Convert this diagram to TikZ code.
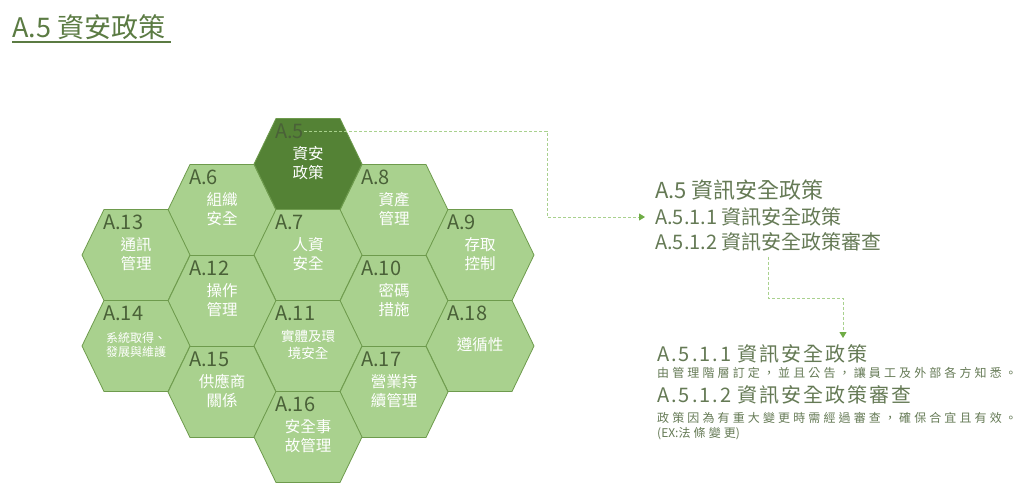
\documentclass[tikz,border=0pt]{standalone}
\usepackage{fontspec}
\setmainfont{Noto Sans CJK TC}
\newfontfamily\headspaced[LetterSpace=10]{Noto Sans CJK TC}
\newfontfamily\notespaced[LetterSpace=26]{Noto Sans CJK TC}
\usepackage{xcolor}
\usetikzlibrary{arrows.meta}
\definecolor{HexFill}{HTML}{A9D18E}
\definecolor{HexDark}{HTML}{548235}
\definecolor{HexEdge}{HTML}{6E9B4D}
\definecolor{CodeInk}{HTML}{4A6138}
\definecolor{TitleInk}{HTML}{5B7B43}
\definecolor{BodyInk}{HTML}{657A55}
\definecolor{LinkGreen}{HTML}{A9D18E}
\definecolor{ArrowGreen}{HTML}{6FAC46}

\begin{document}
\begin{tikzpicture}[
  x=1pt,y=-1pt,
  hexline/.style={draw=HexEdge,line width=.8pt,line join=miter},
  hexcode/.style={anchor=west,inner sep=0pt,text=CodeInk,font=\fontsize{20}{22}\selectfont},
  hextext/.style={inner sep=0pt,align=center,text=white,font=\fontsize{15.5}{19.5}\selectfont},
  pics/hexcell/.style n args={3}{code={
    \draw[hexline,fill=#1] (-54,0)--(-32,-45.5)--(32,-45.5)--(54,0)--(32,45.5)--(-32,45.5)--cycle;
    \node[hexcode] (-code) at (-33,-33) {#2};
    \node[hextext] (-txt) at (0,-1) {#3};
  }},
  heading/.style={anchor=west,inner sep=0pt,text=BodyInk,font=\fontsize{22}{26}\selectfont},
  subline/.style={anchor=west,inner sep=0pt,text=BodyInk,font=\fontsize{20}{24}\selectfont},
  dethead/.style={anchor=west,inner sep=0pt,text=BodyInk,font=\headspaced\fontsize{20}{22}\selectfont},
  note/.style={anchor=west,inner sep=0pt,text=BodyInk,font=\notespaced\fontsize{12}{14}\selectfont},
  dashlink/.style={draw=LinkGreen,line width=1pt,dash pattern=on 3pt off 2pt,-{Triangle[length=6pt,width=7pt,color=ArrowGreen]}}
]
\path[fill=white] (0,0) rectangle (1024,500);
\useasboundingbox (0,0) rectangle (1024,500);

% title
\node[anchor=west,inner sep=0pt,text=TitleInk,font=\fontsize{27}{30}\selectfont] (title) at (12,27) {A.5 資安政策};
\draw[TitleInk,line width=2pt] (title.west |- 0,42) -- ([xshift=6pt]title.east |- 0,42);

% honeycomb
\pic (a6) at (222,210) {hexcell={HexFill}{A.6}{組織\\安全}};
\pic (a8) at (394,210) {hexcell={HexFill}{A.8}{資產\\管理}};
\pic (a13) at (136,255) {hexcell={HexFill}{A.13}{通訊\\管理}};
\pic (a7) at (308,255) {hexcell={HexFill}{A.7}{人資\\安全}};
\pic (a9) at (480,255) {hexcell={HexFill}{A.9}{存取\\控制}};
\pic (a12) at (222,301) {hexcell={HexFill}{A.12}{操作\\管理}};
\pic (a10) at (394,301) {hexcell={HexFill}{A.10}{密碼\\措施}};
\pic[hextext/.append style={font=\fontsize{12}{14}\selectfont}] (a14) at (136,346) {hexcell={HexFill}{A.14}{系統取得、\\發展與維護}};
\pic[hextext/.append style={font=\fontsize{13.5}{17}\selectfont}] (a11) at (308,346) {hexcell={HexFill}{A.11}{實體及環\\境安全}};
\pic (a18) at (480,346) {hexcell={HexFill}{A.18}{遵循性}};
\pic (a15) at (222,392) {hexcell={HexFill}{A.15}{供應商\\關係}};
\pic (a17) at (394,392) {hexcell={HexFill}{A.17}{營業持\\續管理}};
\pic (a16) at (308,437) {hexcell={HexFill}{A.16}{安全事\\故管理}};
\pic (a5) at (308,164) {hexcell={HexDark}{A.5}{資安\\政策}};

% control list
\node[heading] (pol) at (655,190) {A.5 資訊安全政策};
\node[subline] (sub1) at (655,217) {A.5.1.1 資訊安全政策};
\node[subline] (sub2) at (655,242) {A.5.1.2 資訊安全政策審查};

% details
\node[dethead] (det1) at (657,354) {A.5.1.1 資訊安全政策};
\node[note] (det2) at (657,373) {由管理階層訂定，並且公告，讓員工及外部各方知悉。};
\node[dethead] (det3) at (657,395) {A.5.1.2 資訊安全政策審查};
\node[note] (det4) at (657,418) {政策因為有重大變更時需經過審查，確保合宜且有效。};
\node[note,font=\fontsize{12}{14}\selectfont] (det5) at (657,434) {(EX:{\notespaced 法條變更})};

\coordinate (bend1) at (547,0);
\coordinate (elbow) at (843,298);
\coordinate (dettop) at (843,338);
\draw[dashlink,shorten >=10pt] (a5-code.east) -| (bend1 |- sub1.west) -- (sub1.west);
\draw[dashlink,shorten <=5pt] (sub2.south) |- (elbow) -- (dettop);
\end{tikzpicture}
\end{document}
